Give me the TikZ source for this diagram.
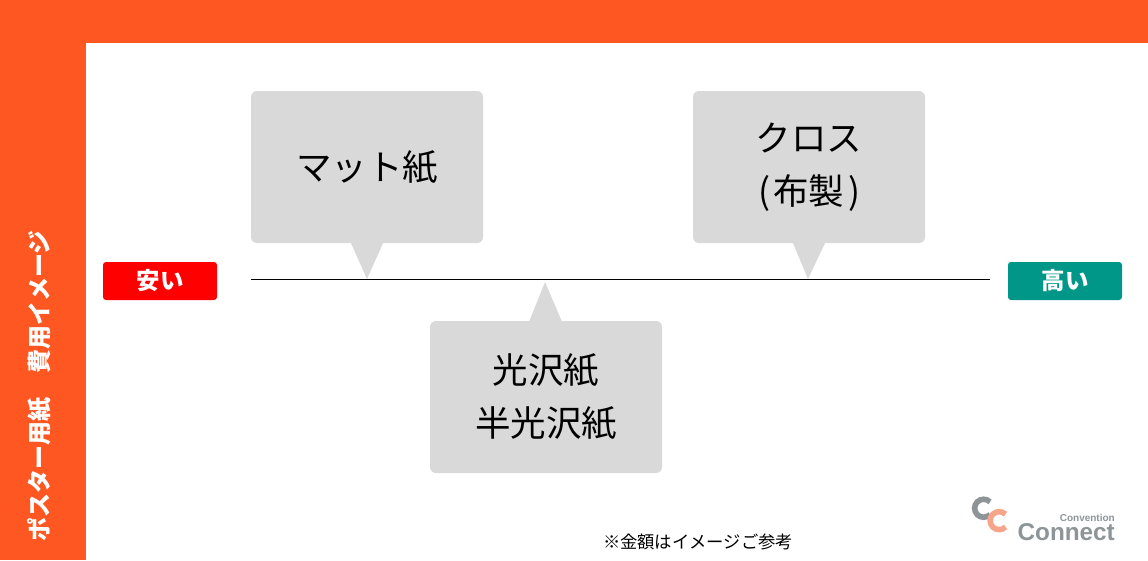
\documentclass[tikz,border=0pt]{standalone}
\usepackage{fontspec}
\setmainfont{Noto Sans CJK JP}
\newfontfamily\logofont{Liberation Sans}
\usetikzlibrary{positioning}
\definecolor{bandorange}{HTML}{FF5722}
\definecolor{boxgray}{HTML}{D9D9D9}
\definecolor{cheapred}{HTML}{FF0000}
\definecolor{dearteal}{HTML}{009688}
\definecolor{logogray}{HTML}{8E9598}
\definecolor{logoorange}{HTML}{F7A58A}

\begin{document}
\begin{tikzpicture}[x=1pt, y=-1pt]
\tikzstyle{paperbox}=[rectangle, rounded corners=6pt, fill=boxgray, minimum width=232pt, minimum height=152pt, align=center, font=\fontsize{35.5}{53.5}\selectfont, inner sep=0pt]
\tikzstyle{pointer}=[fill=boxgray]
\tikzstyle{pricetag}=[rectangle, rounded corners=3pt, minimum width=114pt, minimum height=38pt, text=white, font=\fontsize{23.5}{23.5}\selectfont\bfseries, inner sep=0pt]
\tikzstyle{logoc}=[line width=5.6pt]
\useasboundingbox (0,0) rectangle (1148,560);
\fill[white] (0,0) rectangle (1148,560);
\fill[bandorange] (0,0) rectangle (1148,43);
\fill[bandorange] (0,0) rectangle (86,560);
\node[white, rotate=90, font=\fontsize{24}{24}\selectfont\bfseries, inner sep=0pt] (sidetitle) at (40,386) {ポスター用紙\hspace{1em}費用イメージ};
\node[paperbox] (matte) at (367,167) {\raisebox{1.5pt}{マット紙}};
\node[paperbox] (cloth) at (809,167) {\raisebox{-1pt}{クロス}\\\raisebox{-1pt}{(\hspace{3.5pt}布製\hspace{3.5pt})}};
\node[paperbox] (glossy) at (546,397) {光沢紙\\半光沢紙};
\node[pricetag, fill=cheapred] (cheap) at (160,281) {安い};
\node[pricetag, fill=dearteal] (dear) at (1065,281) {高い};
\coordinate (linestart) at (251,279.5);
\coordinate (lineend) at (990,279.5);
\draw[black, line width=0.9pt] (linestart) -- (lineend);
\fill[pointer] ([xshift=-16pt]matte.south) -- ([xshift=16pt]matte.south) -- (367,279) -- cycle;
\fill[pointer] ([xshift=-16pt]cloth.south) -- ([xshift=16pt]cloth.south) -- (808,279) -- cycle;
\fill[pointer] ([xshift=-17pt,yshift=-1pt]glossy.north) -- ([xshift=16pt,yshift=-1pt]glossy.north) -- (545,282) -- cycle;
\node[font=\fontsize{17.3}{17.3}\selectfont, inner sep=0pt] (note) at (698,542) {※金額はイメージご参考};
\draw[logoc, logogray] (990,514.6) arc (45:315:9);
\draw[logoc, logoorange] (1005.5,527) arc (45:315:9);
\node[logogray, font=\logofont\fontsize{24.3}{24.3}\selectfont\bfseries, inner sep=0pt, anchor=east] (logomain) at (1115,532) {Connect};
\node[logogray, font=\logofont\fontsize{10}{10}\selectfont\bfseries, inner sep=0pt, anchor=east] (logotop) at (1115,517.5) {Convention};
\end{tikzpicture}
\end{document}
